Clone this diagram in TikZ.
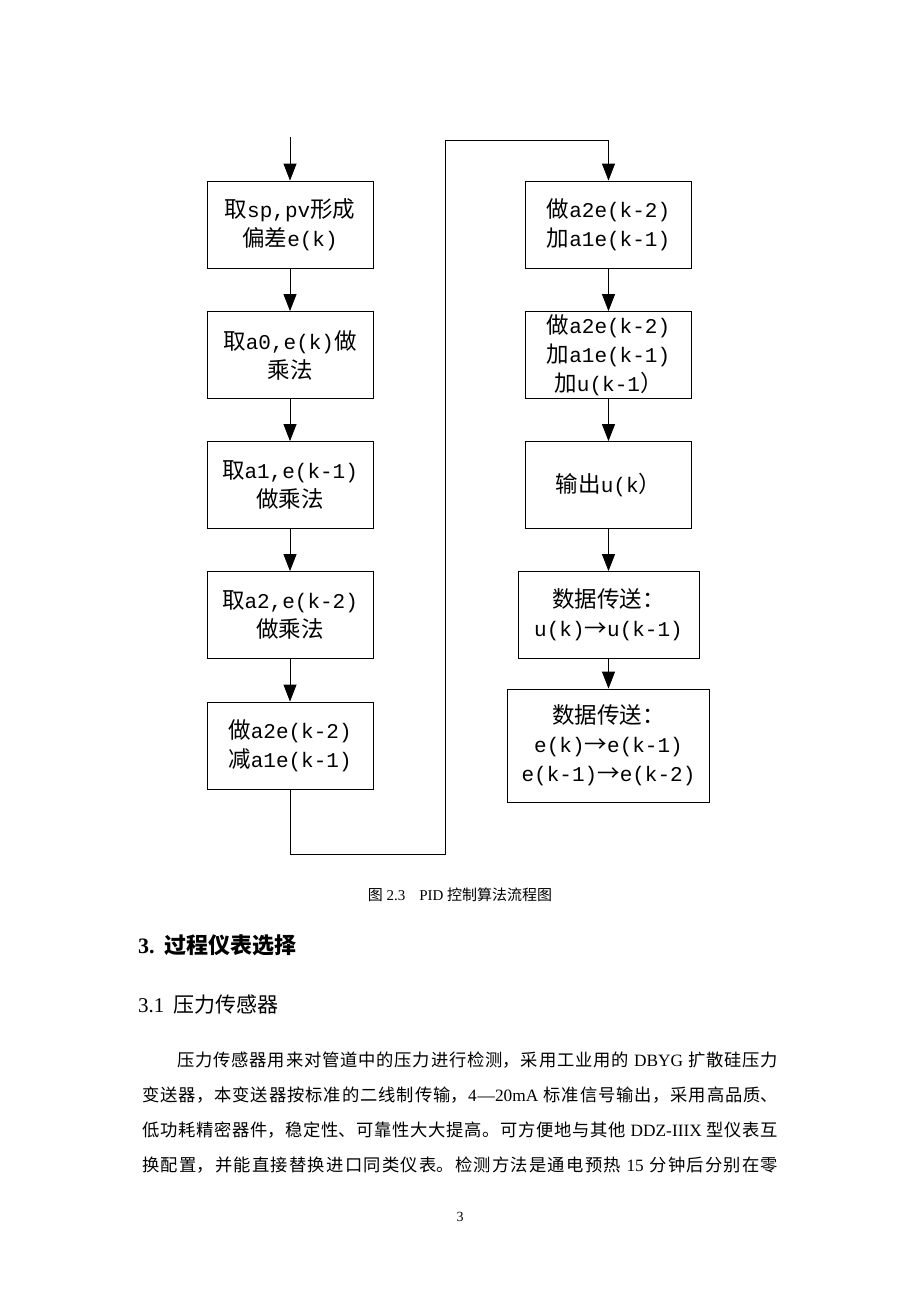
\documentclass[tikz,border=0pt]{standalone}
\usepackage{fontspec}
\setmainfont{Liberation Serif}
\newfontfamily\cjk{Noto Sans CJK SC}
\newfontfamily\latmono{Liberation Mono}
\usetikzlibrary{arrows.meta}
\XeTeXlinebreaklocale "zh"
\XeTeXlinebreakskip=0pt plus 2pt
\newcommand\zh[1]{{\cjk #1}}
\newcommand\LM[1]{{\latmono\fontsize{21}{29}\selectfont #1}}
\newcommand\ar{{\cjk →}}
\newcommand\jline[2]{\parbox{#1}{\tolerance=10000\hbadness=10000\parfillskip=0pt\parindent=0pt\leavevmode #2}}
\begin{document}
\begin{tikzpicture}[x=1pt,y=-1pt,
  flow/.style={draw=black, line width=0.8pt, inner sep=0pt, align=center,
    minimum width=166pt, minimum height=87pt, font=\cjk\fontsize{22.5}{29}\selectfont},
  conn/.style={draw=black, line width=0.8pt},
  arr/.style={conn, -{Triangle[length=17pt,width=13pt]}},
  para/.style={anchor=west, inner sep=0pt, font=\fontsize{17.3}{20}\selectfont},
]
\useasboundingbox[fill=white] (0,0) rectangle (920,1302);

% left column
\node[flow] (b1) at (290,224.5) {取\LM{sp,pv}形成\\偏差\LM{e(k)}};
\node[flow] (b2) at (290,355) {取\LM{a0,e(k)}做\\乘法};
\node[flow] (b3) at (290,485) {取\LM{a1,e(k-1)}\\做乘法};
\node[flow] (b4) at (290,615) {取\LM{a2,e(k-2)}\\做乘法};
\node[flow] (b5) at (290,745.5) {做\LM{a2e(k-2)}\\减\LM{a1e(k-1)}};

% right column
\node[flow] (b6) at (608.5,224.5) {做\LM{a2e(k-2)}\\加\LM{a1e(k-1)}};
\node[flow] (b7) at (608.5,355) {做\LM{a2e(k-2)}\\加\LM{a1e(k-1)}\\加\LM{u(k-1}）};
\node[flow] (b8) at (608.5,485) {输出\LM{u(k}）};
\node[flow, minimum width=181pt] (b9) at (608.5,615) {数据传送：\\\LM{u(k)}\ar\LM{u(k-1)}};
\node[flow, minimum width=202pt, minimum height=113pt] (b10) at (608.5,745.5)
  {数据传送：\\\LM{e(k)}\ar\LM{e(k-1)}\\\LM{e(k-1)}\ar\LM{e(k-2)}};

% connectors
\coordinate (start) at (290,137);
\coordinate (c2) at (445,854);
\coordinate (c4) at (608.5,140);
\draw[arr] (start) -- (b1.north);
\draw[arr] (b1.south) -- (b2.north);
\draw[arr] (b2.south) -- (b3.north);
\draw[arr] (b3.south) -- (b4.north);
\draw[arr] (b4.south) -- (b5.north);
\draw[arr] (b5.south) |- (c2) |- (c4) -- (b6.north);
\draw[arr] (b6.south) -- (b7.north);
\draw[arr] (b7.south) -- (b8.north);
\draw[arr] (b8.south) -- (b9.north);
\draw[arr] (b9.south) -- (b10.north);

% text below
\node[font=\fontsize{15}{18}\selectfont] (cap) at (460,895)
  {\zh{图} 2.3\hspace{14pt}PID \zh{控制算法流程图}};
\node[anchor=west, inner sep=0pt, font=\bfseries\fontsize{22}{26}\selectfont] (h3) at (138,945)
  {3.\hspace{10pt}\zh{过程仪表选择}};
\node[anchor=west, inner sep=0pt, font=\fontsize{21}{25}\selectfont] (h31) at (138,1005)
  {3.1\hspace{9pt}\zh{压力传感器}};
\node[para] (p1) at (177,1060)
  {\jline{601pt}{\zh{压力传感器用来对管道中的压力进行检测，采用工业用的} DBYG \zh{扩散硅压力}}};
\node[para] (p2) at (142,1095)
  {\jline{636pt}{\zh{变送器，本变送器按标准的二线制传输，}4—20mA \zh{标准信号输出，采用高品质、}}};
\node[para] (p3) at (142,1130)
  {\jline{636pt}{\zh{低功耗精密器件，稳定性、可靠性大大提高。可方便地与其他} DDZ-IIIX \zh{型仪表互}}};
\node[para] (p4) at (142,1165)
  {\jline{636pt}{\zh{换配置，并能直接替换进口同类仪表。检测方法是通电预热} 15 \zh{分钟后分别在零}}};
\node[font=\fontsize{14}{16}\selectfont] (pg) at (460,1217) {3};
\end{tikzpicture}
\end{document}
